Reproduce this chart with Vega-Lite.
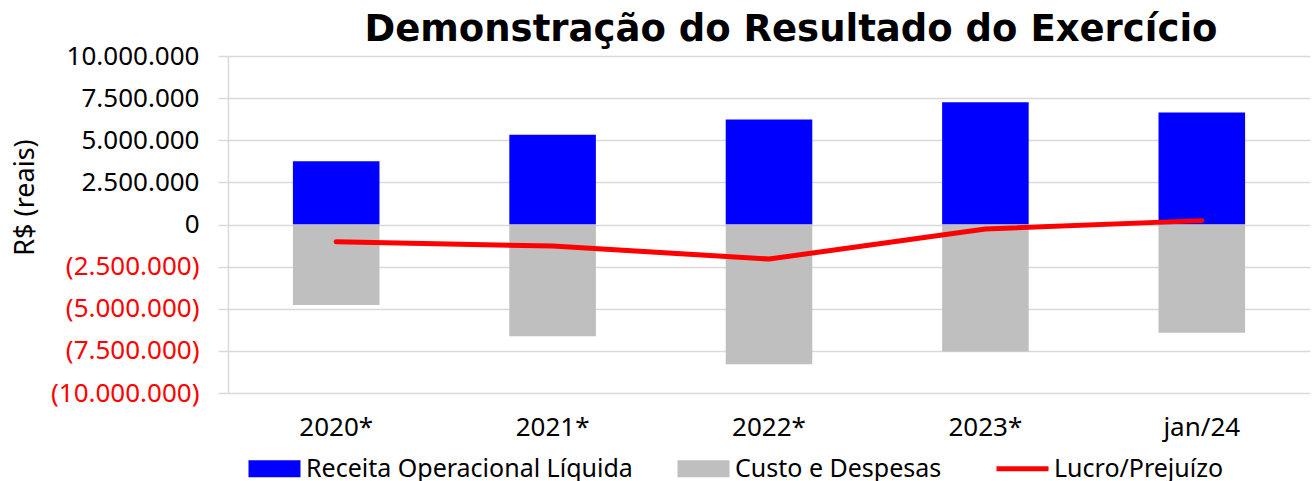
{
  "$schema": "https://vega.github.io/schema/vega-lite/v6.json",
  "width": 1082,
  "height": 337,
  "autosize": {"type": "none"},
  "padding": {"left": 228, "top": 56, "right": 5, "bottom": 88},
  "background": "white",
  "title": {
    "text": "Demonstração do Resultado do Exercício",
    "font": "DejaVu Sans",
    "fontSize": 37,
    "fontWeight": "bold",
    "color": "#000000",
    "anchor": "middle",
    "frame": "group",
    "orient": "top",
    "dx": 22,
    "offset": -6
  },
  "data": {
    "values": [
      {"periodo": "2020*", "serie": "Receita Operacional Líquida", "valor": 3750000},
      {"periodo": "2021*", "serie": "Receita Operacional Líquida", "valor": 5320000},
      {"periodo": "2022*", "serie": "Receita Operacional Líquida", "valor": 6230000},
      {"periodo": "2023*", "serie": "Receita Operacional Líquida", "valor": 7260000},
      {"periodo": "jan/24", "serie": "Receita Operacional Líquida", "valor": 6650000},
      {"periodo": "2020*", "serie": "Custo e Despesas", "valor": -4780000},
      {"periodo": "2021*", "serie": "Custo e Despesas", "valor": -6630000},
      {"periodo": "2022*", "serie": "Custo e Despesas", "valor": -8290000},
      {"periodo": "2023*", "serie": "Custo e Despesas", "valor": -7540000},
      {"periodo": "jan/24", "serie": "Custo e Despesas", "valor": -6430000},
      {"periodo": "2020*", "serie": "Lucro/Prejuízo", "valor": -1030000},
      {"periodo": "2021*", "serie": "Lucro/Prejuízo", "valor": -1280000},
      {"periodo": "2022*", "serie": "Lucro/Prejuízo", "valor": -2050000},
      {"periodo": "2023*", "serie": "Lucro/Prejuízo", "valor": -270000},
      {"periodo": "jan/24", "serie": "Lucro/Prejuízo", "valor": 230000}
    ]
  },
  "encoding": {
    "x": {
      "field": "periodo",
      "type": "nominal",
      "sort": null,
      "scale": {"paddingInner": 0.6, "paddingOuter": 0.3},
      "axis": {
        "title": null,
        "labelAngle": 0,
        "labelFont": "Noto Sans",
        "labelFontSize": 26,
        "labelColor": "#000000",
        "labelPadding": 21,
        "ticks": false,
        "domain": false,
        "grid": false
      }
    },
    "y": {
      "field": "valor",
      "type": "quantitative",
      "scale": {"domain": [-10000000, 10000000], "nice": false},
      "axis": {
        "title": "R$ (reais)",
        "titleFont": "Noto Sans",
        "titleFontSize": 27,
        "titleFontWeight": "normal",
        "titleColor": "#000000",
        "titleAngle": -90,
        "titleAlign": "center",
        "titleBaseline": "middle",
        "titleX": -203,
        "titleY": 141,
        "values": [-10000000, -7500000, -5000000, -2500000, 0, 2500000, 5000000, 7500000, 10000000],
        "labelExpr": "datum.value < 0 ? '(' + format(-datum.value, ',') + ')' : format(datum.value, ',')",
        "labelColor": {"condition": {"test": "datum.value < 0", "value": "#ff0000"}, "value": "#000000"},
        "labelPadding": 19,
        "labelFont": "Noto Sans",
        "labelFontSize": 26,
        "tickSize": 10,
        "tickColor": "#d9d9d9",
        "tickWidth": 1.5,
        "domainColor": "#d9d9d9",
        "domainWidth": 1.5,
        "gridColor": "#d9d9d9",
        "gridWidth": 1.5,
        "encode": {
          "labels": {
            "update": {
              "dx": {"signal": "datum.value < 0 ? 0 : -6"}
            }
          }
        }
      }
    }
  },
  "layer": [
    {
      "transform": [{"filter": "datum.serie !== 'Lucro/Prejuízo'"}],
      "mark": {"type": "bar"},
      "encoding": {
        "y": {"field": "valor", "type": "quantitative", "stack": null},
        "color": {
          "field": "serie",
          "type": "nominal",
          "scale": {
            "domain": ["Receita Operacional Líquida", "Custo e Despesas", "Lucro/Prejuízo"],
            "range": ["#0000ff", "#bfbfbf", "#ff0000"]
          },
          "legend": {
            "title": null,
            "orient": "none",
            "direction": "horizontal",
            "legendX": 34,
            "legendY": 400,
            "labelFont": "Noto Sans",
            "labelFontSize": 25,
            "labelColor": "#000000",
            "labelLimit": 1000,
            "labelOffset": 19,
            "columnPadding": 44,
            "symbolSize": 2704,
            "encode": {
              "symbols": {
                "update": {
                  "shape": {"signal": "datum.value === 'Lucro/Prejuízo' ? 'M-1,0H1' : 'M-1,-0.33H1V0.33H-1Z'"},
                  "fill": {"signal": "datum.value === 'Lucro/Prejuízo' ? 'transparent' : (datum.value === 'Custo e Despesas' ? '#bfbfbf' : '#0000ff')"},
                  "stroke": {"signal": "datum.value === 'Lucro/Prejuízo' ? '#ff0000' : 'transparent'"},
                  "strokeWidth": {"signal": "datum.value === 'Lucro/Prejuízo' ? 5 : 0"},
                  "opacity": {"value": 1}
                }
              }
            }
          }
        }
      }
    },
    {
      "transform": [{"filter": "datum.serie === 'Lucro/Prejuízo'"}],
      "mark": {"type": "line", "strokeWidth": 5, "strokeCap": "round", "strokeJoin": "round"},
      "encoding": {
        "color": {"field": "serie", "type": "nominal"}
      }
    }
  ],
  "config": {
    "locale": {"number": {"decimal": ",", "thousands": ".", "grouping": [3], "currency": ["R$ ", ""]}},
    "view": {"stroke": null}
  }
}
